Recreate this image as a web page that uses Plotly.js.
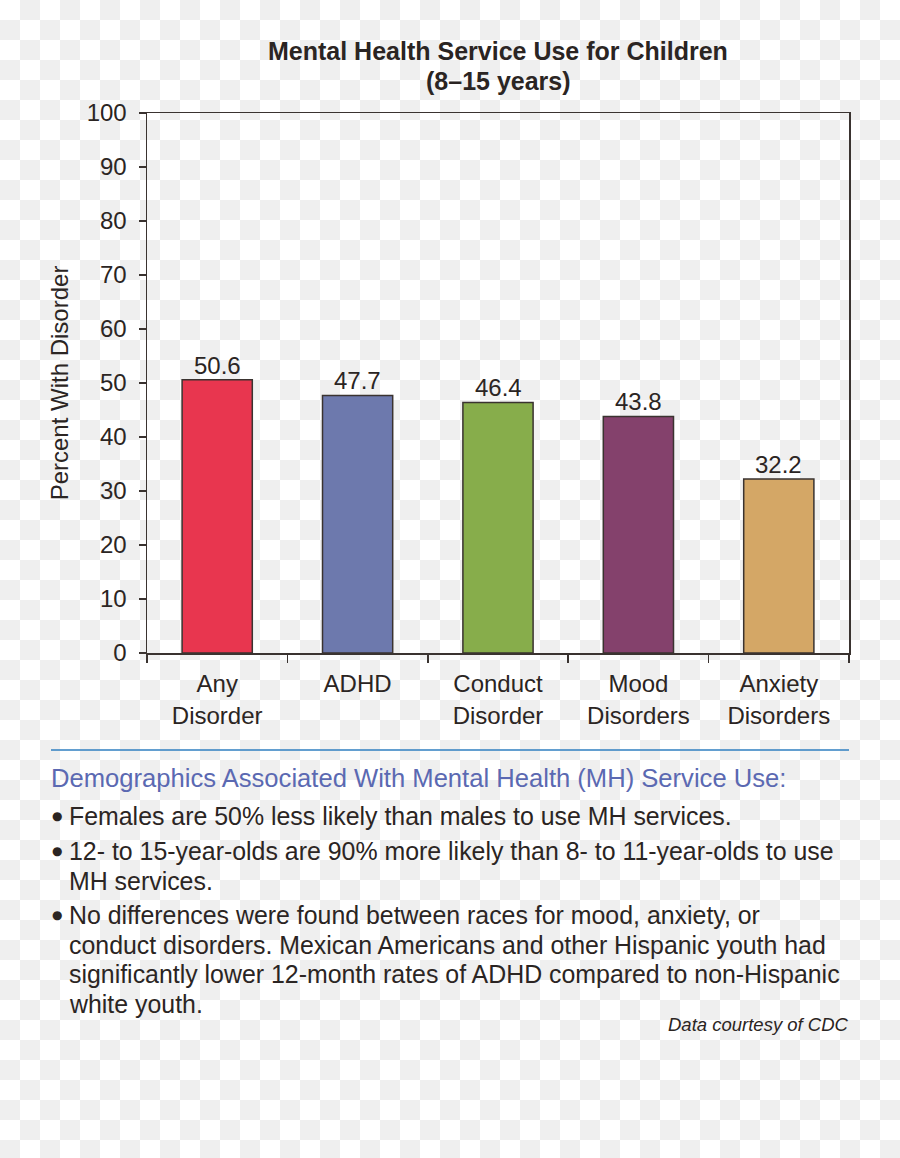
<!DOCTYPE html>
<html>
<head>
<meta charset="utf-8">
<script src="https://cdn.plot.ly/plotly-3.0.1.min.js"></script>
<style>
  html, body { margin: 0; padding: 0; background-color: #ffffff; }
  #chart { width: 900px; height: 1158px; }
</style>
</head>
<body>
<div id="chart"></div>
<script>
// ---- data ----
const categories = ["Any<br>Disorder", "ADHD", "Conduct<br>Disorder", "Mood<br>Disorders", "Anxiety<br>Disorders"];
const values = [50.6, 47.7, 46.4, 43.8, 32.2];
const barColors = ["#e8364f", "#6d79ad", "#87ad4b", "#84416c", "#d4a766"];
const yTicks = [0, 10, 20, 30, 40, 50, 60, 70, 80, 90, 100];
const titleLines = ["Mental Health Service Use for Children", "(8–15 years)"];
const yTitle = "Percent With Disorder";
const notesHeading = "Demographics Associated With Mental Health (MH) Service Use:";
const bullets = [
  ["Females are 50% less likely than males to use MH services."],
  ["12- to 15-year-olds are 90% more likely than 8- to 11-year-olds to use", "MH services."],
  ["No differences were found between races for mood, anxiety, or",
   "conduct disorders. Mexican Americans and other Hispanic youth had",
   "significantly lower 12-month rates of ADHD compared to non-Hispanic",
   "white youth."]
];
const sourceText = "Data courtesy of CDC";

// ---- layout helpers ----
const W = 900, H = 1158;
const M = { l: 147, r: 51, t: 113, b: 505 };
const PW = W - M.l - M.r, PH = H - M.t - M.b;
const px2x = x => (x - M.l) / PW;
const px2y = y => (H - M.b - y) / PH;

const FONT = "Liberation Sans, Arial, Helvetica, sans-serif";
const INK = "#2b2523";

const annotations = [];
// value labels
categories.forEach((c, i) => {
  annotations.push({
    x: c, y: values[i], xref: "x", yref: "y",
    text: values[i].toFixed(1), showarrow: false,
    yanchor: "bottom", yshift: -1,
    font: { family: FONT, size: 24, color: INK }
  });
});
// title lines
titleLines.forEach((t, i) => {
  annotations.push({
    xref: "paper", yref: "paper", x: 0.5, y: px2y(51 + i * 30),
    xanchor: "center", yanchor: "middle", showarrow: false,
    text: "<b>" + t + "</b>", font: { family: FONT, size: 25, color: INK }
  });
});
// notes heading
annotations.push({
  xref: "paper", yref: "paper", x: px2x(49), y: px2y(778),
  xanchor: "left", yanchor: "middle", showarrow: false,
  text: notesHeading, font: { family: FONT, size: 25.6, color: "#5b69b2" }
});
// bullets
const bulletTops = [816, 851, 915];
const lineGap = 29.7;
bullets.forEach((lines, bi) => {
  annotations.push({
    xref: "paper", yref: "paper", x: px2x(57), y: px2y(bulletTops[bi] - 0.5),
    xanchor: "center", yanchor: "middle", showarrow: false,
    text: "●", font: { family: "DejaVu Sans", size: 12, color: INK }
  });
  lines.forEach((ln, li) => {
    annotations.push({
      xref: "paper", yref: "paper", x: px2x(67), y: px2y(bulletTops[bi] + li * lineGap),
      xanchor: "left", yanchor: "middle", showarrow: false,
      text: ln, font: { family: FONT, size: 24.9, color: INK }
    });
  });
});
// source
annotations.push({
  xref: "paper", yref: "paper", x: px2x(851), y: px2y(1024),
  xanchor: "right", yanchor: "middle", showarrow: false,
  text: "<i>" + sourceText + "</i>", font: { family: FONT, size: 18.5, color: INK }
});

// transparency-style checkerboard backdrop (20px squares) as individual rect shapes
const shapes = [];
const SQ = 20;
for (let r = 0; r * SQ < H; r++) {
  for (let c = 0; c * SQ < W; c++) {
    if ((r + c) % 2 === 1) {
      shapes.push({
        type: "rect", xref: "paper", yref: "paper", layer: "below",
        x0: px2x(c * SQ), x1: px2x(Math.min((c + 1) * SQ, W)),
        y0: px2y(r * SQ), y1: px2y(Math.min((r + 1) * SQ, H)),
        fillcolor: "#efefef", line: { width: 0 }
      });
    }
  }
}
shapes.push({
  type: "line", xref: "paper", yref: "paper",
  x0: px2x(51), x1: px2x(849), y0: px2y(750), y1: px2y(750),
  line: { color: "#2f7fc1", width: 1.5 }
});

const trace = {
  type: "bar",
  x: categories,
  y: values,
  width: 0.5,
  marker: { color: barColors, line: { color: "#3a3330", width: 1.5 } },
  hoverinfo: "skip"
};

const layout = {
  width: W, height: H,
  margin: M,
  paper_bgcolor: "#ffffff",
  plot_bgcolor: "rgba(0,0,0,0)",
  showlegend: false,
  font: { family: FONT, color: INK },
  xaxis: {
    type: "category",
    tickson: "boundaries",
    ticks: "outside", ticklen: 8, tickwidth: 1.5, tickcolor: "#3a3330",
    showline: true, linecolor: "#3a3330", linewidth: 1.5, mirror: true,
    showgrid: false, zeroline: false,
    tickfont: { family: FONT, size: 24, color: INK },
    ticklabelstandoff: 9,
    fixedrange: true
  },
  yaxis: {
    range: [0, 100],
    tickmode: "array", tickvals: yTicks,
    ticks: "outside", ticklen: 7, tickwidth: 1.5, tickcolor: "#3a3330",
    showline: true, linecolor: "#3a3330", linewidth: 1.5, mirror: true,
    showgrid: false, zeroline: false,
    tickfont: { family: FONT, size: 24, color: INK },
    ticklabelstandoff: 7,
    title: { text: yTitle, font: { family: FONT, size: 24, color: INK }, standoff: 11 },
    fixedrange: true
  },
  annotations: annotations,
  shapes: shapes
};

Plotly.newPlot("chart", [trace], layout, { displayModeBar: false, staticPlot: true });
</script>
</body>
</html>
